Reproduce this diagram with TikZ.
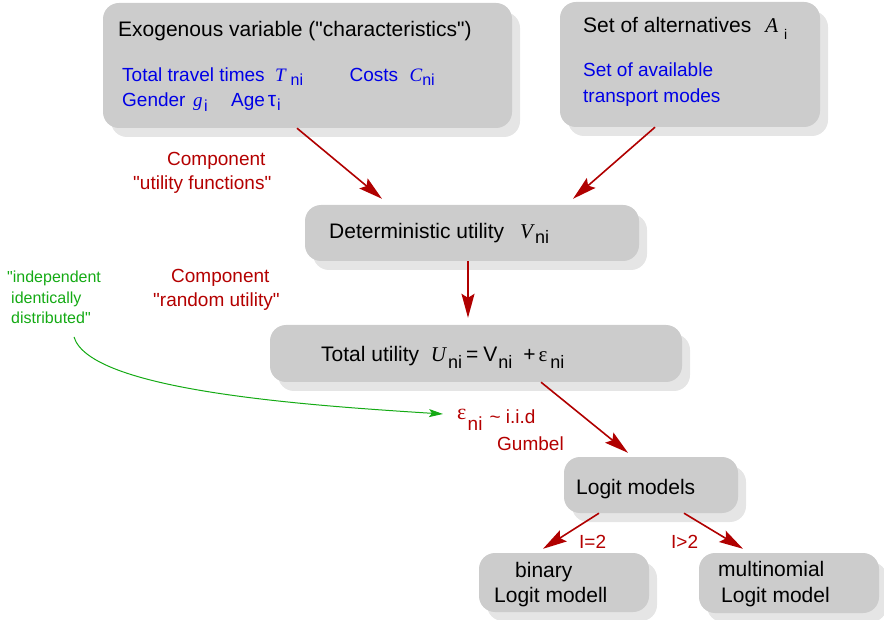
\documentclass[tikz,border=0pt]{standalone}
\usepackage{fontspec}
\setmainfont{Liberation Sans}[Ligatures=TeXOff]
\newfontfamily\grk{Liberation Serif}[Ligatures=TeXOff]
\usetikzlibrary{arrows.meta,shadows}
\definecolor{boxgray}{RGB}{204,204,204}
\definecolor{shadegray}{RGB}{229,229,229}
\definecolor{linkred}{RGB}{176,0,0}
\definecolor{notered}{RGB}{180,0,0}
\definecolor{varblue}{RGB}{0,0,230}
\definecolor{iidgreen}{RGB}{20,170,20}
% italic serif variable letter
\newcommand\vi[1]{{\grk\itshape #1}}
% lowered index: #1 = drop (pt), #2 = size (pt), #3 = text
\newcommand\lo[3]{\raisebox{-#1pt}{\fontsize{#2}{#2}\selectfont #3}}

\begin{document}
\begin{tikzpicture}[x=1pt,y=-1pt,
  box/.style={fill=boxgray, rounded corners=16pt, inner sep=0pt, draw=none,
    drop shadow={shadow xshift=8pt, shadow yshift=-9pt, fill=shadegray, opacity=1}},
  txt/.style={inner sep=0pt, anchor=base west, font=\fontsize{21}{25}\selectfont},
  bluetxt/.style={inner sep=0pt, anchor=base west, text=varblue, font=\fontsize{19}{24}\selectfont},
  redtxt/.style={inner sep=0pt, anchor=base west, text=notered, font=\fontsize{19}{24}\selectfont},
  greentxt/.style={inner sep=0pt, anchor=base west, text=iidgreen, font=\fontsize{16}{20}\selectfont},
  link/.style={draw=linkred, line width=1.6pt, -{Stealth[length=24pt,width=13pt,inset=4pt]}},
  iidlink/.style={draw=iidgreen, line width=1pt, -{Stealth[length=14pt,width=8pt,inset=3pt]}},
]
\useasboundingbox (0,0) rectangle (884,620);

% boxes
\node[box, minimum width=409pt, minimum height=125pt] (exo)   at (307.5,65.5) {};
\node[box, minimum width=260pt, minimum height=125pt] (alt)   at (690,64.5) {};
\node[box, minimum width=334pt, minimum height=56pt]  (det)   at (472,233) {};
\node[box, minimum width=412pt, minimum height=57pt]  (tot)   at (476,353.5) {};
\node[box, minimum width=174pt, minimum height=56pt]  (logit) at (651,485) {};
\node[box, minimum width=170pt, minimum height=59pt]  (bin)   at (564,582.5) {};
\node[box, minimum width=180pt, minimum height=60pt]  (multi) at (789,583) {};

% box texts
\node[txt] (exo-head) at (118,37) {Exogenous variable ("characteristics")};
\node[bluetxt] (exo-l1) at (122,82) {Total travel times\hspace{10.4pt}\vi{T}\hspace{5pt}\lo{4}{16}{ni}\hspace{46.5pt}Costs\hspace{11.4pt}\vi{C}\lo{4}{16}{ni}};
\node[bluetxt] (exo-l2) at (122,107) {Gender\hspace{7.6pt}\vi{g}\hspace{1.5pt}\lo{5}{16}{i}\hspace{23.4pt}Age\hspace{3pt}{\fontsize{21}{21}\selectfont τ}\hspace{1pt}\lo{4}{16}{i}};

\node[txt] (alt-head) at (583,33) {Set of alternatives\hspace{14pt}\vi{A}\hspace{6pt}\lo{7}{14}{i}};
\node[bluetxt] (alt-l1) at (583,77) {Set of available};
\node[bluetxt] (alt-l2) at (583,103) {transport modes};

\node[txt] (det-txt) at (329,239) {Deterministic utility\hspace{16pt}\vi{V}\hspace{2pt}\lo{5}{18}{ni}};
\node[txt] (tot-txt) at (321,362) {Total utility\hspace{11.6pt}\vi{U}\hspace{2pt}\lo{7}{18}{ni}\hspace{4pt}=\hspace{5pt}V\hspace{1pt}\lo{7}{18}{ni}\hspace{11pt}+\hspace{3pt}{\grk ε}\hspace{3pt}\lo{7}{18}{ni}};

\node[txt] (logit-txt) at (576,494) {Logit models};
\node[txt] (bin-l1) at (515,577) {binary};
\node[txt] (bin-l2) at (494,602) {Logit modell};
\node[txt] (multi-l1) at (718,576) {multinomial};
\node[txt] (multi-l2) at (721,602) {Logit model};

% component labels
\node[redtxt] (comp1-l1) at (167,166) {Component};
\node[redtxt] (comp1-l2) at (133,190) {"utility functions"};
\node[redtxt] (comp2-l1) at (171,283) {Component};
\node[redtxt] (comp2-l2) at (153,307) {"random utility"};

% error term distribution
\node[redtxt] (epsl) at (457,423) {\raisebox{4pt}{\fontsize{22}{22}\grk ε}\hspace{1.3pt}\lo{7}{19}{ni}\hspace{7pt}\textasciitilde{} i.i.d};
\node[redtxt] (gumbel) at (497,450) {Gumbel};

% branch labels
\node[redtxt] (two) at (579,548) {I=2};
\node[redtxt] (more) at (671,548) {I>2};

% iid note
\node[greentxt] (iid1) at (7,283) {"independent};
\node[greentxt] (iid2) at (11,304) {identically};
\node[greentxt] (iid3) at (11,324) {distributed"};
\coordinate (iidtail) at (74,337);

% connectors
\draw[link] ([xshift=-10.5pt]exo.south) -- ([xshift=-90pt,yshift=6pt]det.north);
\draw[link] ([xshift=-35pt]alt.south) -- ([xshift=101pt,yshift=6pt]det.north);
\draw[link] ([xshift=-4pt]det.south) -- ([xshift=-8pt,yshift=7pt]tot.north);
\draw[link] ([xshift=65pt]tot.south) -- ([xshift=-23pt,yshift=4pt]logit.north);
\draw[link] ([xshift=-52pt]logit.south) -- ([xshift=-21pt,yshift=4pt]bin.north);
\draw[link] ([xshift=33pt]logit.south) -- ([xshift=-46pt,yshift=4pt]multi.north);
\draw[iidlink] (iidtail) .. controls (90,390) and (300,405) .. ([shift={(-14,-9)}]epsl.base west);
\end{tikzpicture}
\end{document}
